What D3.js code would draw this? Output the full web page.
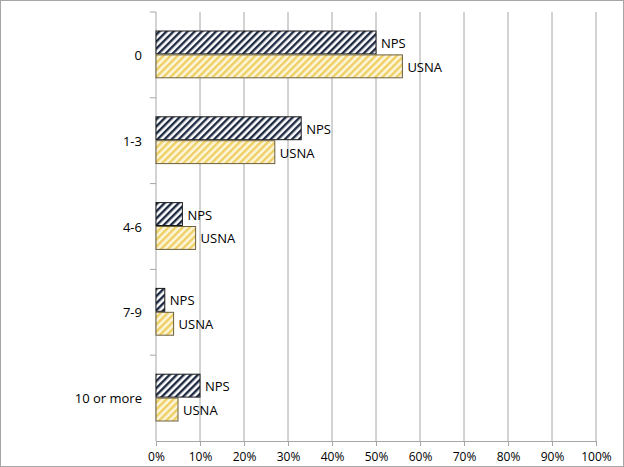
<!DOCTYPE html>
<html>
<head>
<meta charset="utf-8">
<script src="https://cdn.jsdelivr.net/npm/d3@7"></script>
<style>
  body { margin: 0; background: #fff; }
  svg { display: block; }
  text { font-family: "Open Sans", "Liberation Sans", sans-serif; fill: #000; }
</style>
</head>
<body>
<div class="chart"></div>
<script>
// values (share of respondents)
const categories = ['0', '1-3', '4-6', '7-9', '10 or more'];
const npsValues = [0.50, 0.33, 0.06, 0.02, 0.10];
const usnaValues = [0.56, 0.27, 0.09, 0.04, 0.05];
const seriesNames = ['NPS', 'USNA'];
const xTicks = [0, 0.1, 0.2, 0.3, 0.4, 0.5, 0.6, 0.7, 0.8, 0.9, 1.0];

const svg_width = 624;
const svg_height = 467;
const margin = {top: 12, right: 28, bottom: 26, left: 156};
const chart_width = svg_width - margin.left - margin.right;
const chart_height = svg_height - margin.top - margin.bottom;

const svg = d3.select('.chart').append('svg')
  .attr('width', svg_width).attr('height', svg_height);

// outer frame
svg.append('rect')
  .attr('x', 0.5).attr('y', 0.5)
  .attr('width', svg_width - 1).attr('height', svg_height - 1)
  .attr('fill', 'none').attr('stroke', '#a6a6a6');

const defs = svg.append('defs');
const npsPat = defs.append('pattern')
  .attr('id', 'hatch-nps').attr('patternUnits', 'userSpaceOnUse')
  .attr('width', 5).attr('height', 5)
  .attr('patternTransform', 'rotate(45)');
npsPat.append('rect').attr('width', 5).attr('height', 5).attr('fill', '#fff');
npsPat.append('rect').attr('width', 2.4).attr('height', 5).attr('fill', '#1f2a44');

const usnaPat = defs.append('pattern')
  .attr('id', 'hatch-usna').attr('patternUnits', 'userSpaceOnUse')
  .attr('width', 5).attr('height', 5)
  .attr('patternTransform', 'rotate(45)');
usnaPat.append('rect').attr('width', 5).attr('height', 5).attr('fill', '#fdf6dc');
usnaPat.append('rect').attr('width', 2.4).attr('height', 5).attr('fill', '#eecf62');

const g = svg.append('g').attr('transform', `translate(${margin.left},${margin.top})`);

const xScale = d3.scaleLinear().domain([0, 1]).range([0, chart_width]);
const yScale = d3.scaleBand().domain(categories).range([0, chart_height]);
const inner = d3.scaleBand().domain(seriesNames).range([19, yScale.bandwidth() - 19]).padding(0);

// gridlines
g.append('g').selectAll('line').data(xTicks.slice(1)).join('line')
  .attr('x1', d => xScale(d)).attr('x2', d => xScale(d))
  .attr('y1', 0).attr('y2', chart_height)
  .attr('stroke', '#a6a6a6').attr('stroke-width', 1);

// x axis
const xAxis = d3.axisBottom(xScale).tickValues(xTicks)
  .tickFormat(d3.format('.0%')).tickSizeInner(5).tickSizeOuter(0).tickPadding(6);
const xg = g.append('g').attr('transform', `translate(0,${chart_height})`).call(xAxis);
xg.select('.domain').attr('stroke', '#a6a6a6');
xg.selectAll('.tick line').attr('stroke', '#a6a6a6');
xg.selectAll('text').style('font-size', '12px');

// y axis with ticks between categories
g.append('line').attr('x1', 0).attr('x2', 0).attr('y1', 0).attr('y2', chart_height)
  .attr('stroke', '#a6a6a6');
g.append('g').selectAll('line').data(categories).join('line')
  .attr('x1', -6).attr('x2', 0)
  .attr('y1', d => yScale(d)).attr('y2', d => yScale(d))
  .attr('stroke', '#a6a6a6');
g.append('g').selectAll('text').data(categories).join('text')
  .attr('x', -14)
  .attr('y', d => yScale(d) + yScale.bandwidth() / 2)
  .attr('text-anchor', 'end').attr('dominant-baseline', 'central')
  .style('font-size', '13px')
  .text(d => d);

const rows = [];
categories.forEach((c, i) => {
  rows.push({cat: c, name: 'NPS', value: npsValues[i]});
  rows.push({cat: c, name: 'USNA', value: usnaValues[i]});
});

const bars = g.append('g');
bars.selectAll('rect').data(rows).join('rect')
  .attr('x', xScale(0))
  .attr('y', d => yScale(d.cat) + inner(d.name))
  .attr('width', d => xScale(d.value) - xScale(0))
  .attr('height', inner.bandwidth() - 1)
  .attr('fill', d => d.name === 'NPS' ? 'url(#hatch-nps)' : 'url(#hatch-usna)')
  .attr('stroke', d => d.name === 'NPS' ? '#1a1a1a' : '#6b6040')
  .attr('stroke-width', 1);

bars.selectAll('text').data(rows).join('text')
  .attr('x', d => xScale(d.value) + 5)
  .attr('y', d => yScale(d.cat) + inner(d.name) + inner.bandwidth() / 2)
  .attr('dominant-baseline', 'central')
  .style('font-size', '13px')
  .text(d => d.name);
</script>
</body>
</html>
